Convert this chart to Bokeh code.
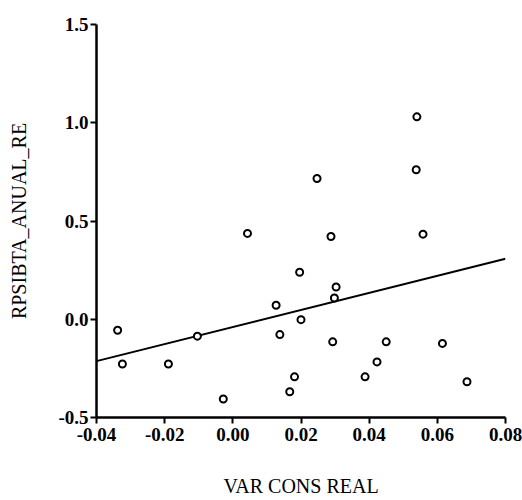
from bokeh.plotting import figure
from bokeh.models import Range1d, FixedTicker, PrintfTickFormatter
from bokeh.embed import file_html
from bokeh.resources import INLINE

# Data
var_cons_real = [-0.0338, -0.0324, -0.0189, -0.0104, -0.0028, 0.0043, 0.0540, 0.0538,
                 0.0247, 0.0288, 0.0558, 0.0196, 0.0303, 0.0298, 0.0127, 0.0200,
                 0.0138, 0.0293, 0.0450, 0.0615, 0.0423, 0.0388, 0.0181, 0.0167, 0.0687]
rpsibta_anual_re = [-0.056, -0.228, -0.228, -0.086, -0.406, 0.437, 1.030, 0.761,
                    0.716, 0.421, 0.433, 0.239, 0.164, 0.108, 0.071, -0.002,
                    -0.078, -0.115, -0.115, -0.123, -0.217, -0.293, -0.293, -0.369, -0.318]
fit_x = [-0.04, 0.08]
fit_y = [-0.213, 0.308]
x_ticks = [-0.04, -0.02, 0.00, 0.02, 0.04, 0.06, 0.08]
y_ticks = [-0.5, 0.0, 0.5, 1.0, 1.5]

p = figure(width=522, height=500, output_backend="svg", toolbar_location=None,
           x_range=Range1d(-0.04, 0.08), y_range=Range1d(-0.5, 1.5),
           min_border_left=96, min_border_right=17, min_border_top=24, min_border_bottom=83)
p.outline_line_color = None
p.xgrid.visible = False
p.ygrid.visible = False
p.background_fill_color = "white"

p.line(fit_x, fit_y, line_color="black", line_width=2)
p.scatter(var_cons_real, rpsibta_anual_re, marker="circle", size=7,
          fill_color="white", line_color="black", line_width=2)

for ax in (p.xaxis[0], p.yaxis[0]):
    ax.axis_line_width = 2.5
    ax.axis_line_color = "black"
    ax.major_tick_line_width = 2
    ax.major_tick_out = 6
    ax.major_tick_in = 0
    ax.minor_tick_line_color = None
    ax.major_label_text_font = "Liberation Serif"
    ax.major_label_text_font_style = "bold"
    ax.major_label_text_font_size = "19px"
    ax.major_label_text_color = "black"
    ax.axis_label_text_font = "Liberation Serif"
    ax.axis_label_text_font_style = "normal"
    ax.axis_label_text_font_size = "20px"
    ax.axis_label_text_color = "black"

p.xaxis.ticker = FixedTicker(ticks=x_ticks)
p.yaxis.ticker = FixedTicker(ticks=y_ticks)
p.xaxis.formatter = PrintfTickFormatter(format="%.2f")
p.yaxis.formatter = PrintfTickFormatter(format="%.1f")
p.xaxis.axis_label = "VAR CONS REAL"
p.yaxis.axis_label = "RPSIBTA_ANUAL_RE"
p.xaxis.axis_label_standoff = 31
p.yaxis.axis_label_standoff = 25
p.yaxis.major_label_standoff = 2
p.xaxis.major_label_standoff = 4

open("out.html", "w").write(file_html(p, INLINE))
